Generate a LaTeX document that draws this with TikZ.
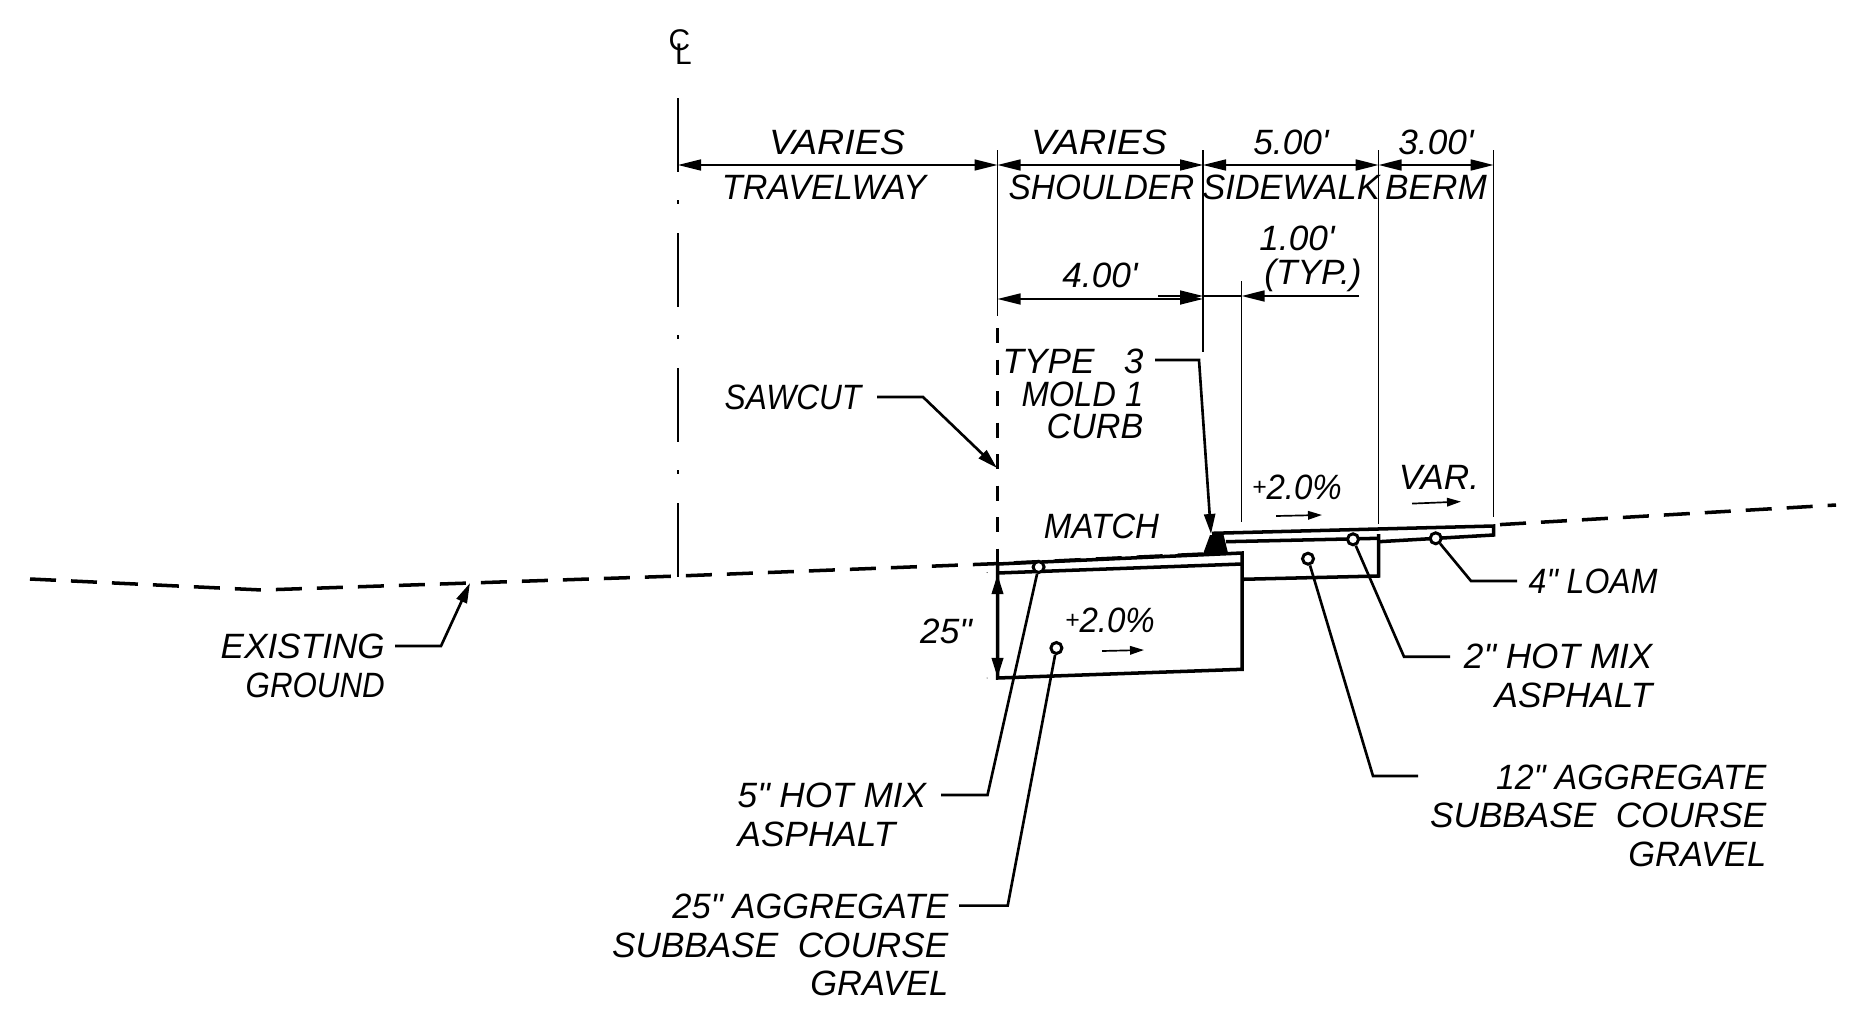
\documentclass[tikz,border=0pt]{standalone}
\usepackage{fontspec}
\setmainfont{Liberation Sans}[Ligatures=TeXOff]
\usetikzlibrary{arrows.meta}
\newcommand{\fitw}[2]{\scalebox{#1}[1]{#2}}
\tikzset{
  lbl/.style={inner sep=0pt, font=\itshape\fontsize{10}{10.94}\selectfont},
  thinline/.style={line width=0.48pt},
  thickline/.style={line width=1pt},
  groundline/.style={thickline, dash pattern=on 0.26cm off 0.15cm},
  dimline/.style={thinline, {Triangle[length=2.3mm,width=1.1mm]}-{Triangle[length=2.3mm,width=1.1mm]}},
  tipline/.style={thinline, -{Triangle[length=2.3mm,width=1.1mm]}},
  leader/.style={line width=0.75pt},
  leadertip/.style={line width=0.75pt, -{Triangle[length=2mm,width=1.1mm]}},
  slopearrow/.style={thinline, -{Triangle[length=1.4mm,width=0.85mm]}},
  spot/.style={circle, draw, line width=0.85pt, fill=white, inner sep=0pt, minimum size=0.11cm}
}
\begin{document}
\begin{tikzpicture}[x=0.01cm,y=-0.01cm]
  \useasboundingbox (0,0) rectangle (1861,1015);
  \def\cl{678}
  \def\sh{997.5}
  \def\sw{1203}
  \def\cb{1241.6}
  \def\be{1378.6}
  \def\en{1493.6}
  % centerline
  \node[inner sep=0pt, font=\fontsize{8.5}{9}\selectfont, anchor=base west] (clsym) at (668,50) {C\hspace{-4.3pt}\raisebox{-4pt}{L}};
  \draw[thinline, dash pattern=on 0.74cm off 0.28cm on 0.04cm off 0.29cm] (\cl,98) -- (\cl,577);
  % extension lines
  \draw[thinline] (\sh,150) -- (\sh,316);
  \draw[line width=0.7pt, dash pattern=on 0.15cm off 0.165cm] (\sh,328) -- (\sh,564);
  \draw[thinline] (\sw,150) -- (\sw,352);
  \draw[thinline] (\cb,281) -- (\cb,522);
  \draw[thinline] (\be,150) -- (\be,524);
  \draw[thinline] (\en,150) -- (\en,517);
  % dimensions
  \coordinate (dcl) at (\cl,165);
  \coordinate (dsh) at (\sh,165);
  \coordinate (dsw) at (\sw,165);
  \coordinate (dbe) at (\be,165);
  \coordinate (den) at (\en,165);
  \draw[dimline] (dcl) -- (dsh);
  \draw[dimline] (dsh) -- (dsw);
  \draw[dimline] (dsw) -- (dbe);
  \draw[dimline] (dbe) -- (den);
  \coordinate (fa) at (\sh,299);
  \coordinate (fb) at (\sw,299);
  \draw[dimline] (fa) -- (fb);
  \coordinate (oa) at (1158,296);
  \coordinate (ob) at (\sw,296);
  \coordinate (oc) at (\cb,296);
  \coordinate (od) at (1359,296);
  \draw[tipline] (oa) -- (ob);
  \draw[thinline] (ob) -- (oc);
  \draw[tipline] (od) -- (oc);
  % ground
  \draw[groundline] (30,579) -- (262,590) -- (678,576) -- (1000,563.5) -- (1203,554);
  \draw[groundline] (1500,524.6) -- (1836,505);
  % pavement
  \draw[thickline] (\sh,564) -- (1242,553) -- (1242,669.3) -- (\sh,678) -- cycle;
  \draw[thickline] (\sh,573) -- (1242,564);
  \draw[thickline] (1242,579.3) -- (\be,576) -- (\be,534);
  \draw[thickline] (1212,533.3) -- (\en,526) -- (\en,535) -- (\be,541.7);
  \draw[thickline] (1226,541.7) -- (\be,538.3);
  \fill (1203,554) -- (1228,553) -- (1223.6,535) -- (1210,535) -- cycle;
  \draw[line width=1pt, {Triangle[length=2mm,width=1.1mm]}-{Triangle[length=2mm,width=1.1mm]}] (\sh,574) -- (\sh,678);
  \fill (987,572.5) circle (0.5);
  \fill (987,678) circle (0.5);
  % callout spots
  \node[spot] (hmaspot) at (1038.6,567) {};
  \node[spot] (subspot) at (1056.4,648) {};
  \node[spot] (gravspot) at (1308,558.7) {};
  \node[spot] (walkspot) at (1353,539.3) {};
  \node[spot] (loamspot) at (1435.7,538.3) {};
  % slopes
  \draw[slopearrow] (1102,651) -- (1144,650);
  \draw[slopearrow] (1276,516) -- (1322,515);
  \draw[slopearrow] (1412,503.6) -- (1461,501.6);
  % dimension text
  \node[lbl] (varone) at (837,142.5) {\fitw{1.07}{VARIES}};
  \node[lbl] (vartwo) at (1099,142.5) {\fitw{1.07}{VARIES}};
  \node[lbl] (fivef) at (1291,142.5) {5.00'};
  \node[lbl] (threef) at (1436,142.5) {3.00'};
  \node[lbl] (travelway) at (824,187.5) {\fitw{0.97}{TRAVELWAY}};
  \node[lbl] (shoulder) at (1101.5,187.5) {\fitw{0.95}{SHOULDER}};
  \node[lbl] (sidewalk) at (1291,187.5) {\fitw{0.98}{SIDEWALK}};
  \node[lbl] (berm) at (1436,187.5) {BERM};
  \node[lbl] (fourf) at (1100,275) {4.00'};
  \node[lbl] (onef) at (1297,238.5) {1.00'};
  \node[lbl] (typ) at (1313,275) {(TYP.)};
  \node[lbl] (match) at (1101.5,526) {\fitw{0.94}{MATCH}};
  \node[lbl] (upslope) at (1297,487) {\raisebox{.2ex}{\scriptsize +}\fitw{0.94}{2.0\%}};
  \node[lbl] (lowslope) at (1110,620) {\raisebox{.2ex}{\scriptsize +}\fitw{0.94}{2.0\%}};
  \node[lbl] (var) at (1439,477) {VAR.};
  \node[lbl] (depth) at (946,631.5) {25"};
  % callouts
  \node[lbl, anchor=east] (sawcut) at (862,397) {\fitw{0.9}{SAWCUT}};
  \coordinate (sawbend) at (923,397);
  \coordinate (sawtip) at (997,468);
  \draw[leadertip] ([xshift=0.15cm]sawcut.east) -- (sawbend) -- (sawtip);
  \node[lbl, anchor=east, align=right, font=\itshape\fontsize{10}{9.35}\selectfont] (curb) at (1144,394) {TYPE\hspace{0.83em}3\\\fitw{0.93}{MOLD 1}\\\fitw{0.97}{CURB}};
  \coordinate (curbs) at (1155,360);
  \coordinate (curbbend) at (1199,360);
  \coordinate (curbtip) at (1211,534);
  \draw[leadertip] (curbs) -- (curbbend) -- (curbtip);
  \node[lbl, anchor=east, align=right] (ground) at (385.5,666) {EXISTING\\\fitw{0.89}{GROUND}};
  \coordinate (grounds) at (395,646);
  \coordinate (groundbend) at (441,646);
  \coordinate (groundtip) at (470,583);
  \draw[leadertip] (grounds) -- (groundbend) -- (groundtip);
  \node[lbl, anchor=west] (loam) at (1528,581.5) {\fitw{0.91}{4" LOAM}};
  \coordinate (loambend) at (1471,581);
  \coordinate (loamend) at (1517,581);
  \draw[leader] (loamspot) -- (loambend) -- (loamend);
  \node[lbl, anchor=east, align=right] (walkhma) at (1653,676) {2" HOT MIX\\ASPHALT};
  \coordinate (walkbend) at (1404,656.7);
  \coordinate (walkend) at (1450,656.7);
  \draw[leader] (walkspot) -- (walkbend) -- (walkend);
  \node[lbl, anchor=east, align=right] (walkgrav) at (1767,815.5) {\fitw{0.96}{12" AGGREGATE}\\SUBBASE\ \ COURSE\\\fitw{0.98}{GRAVEL}};
  \coordinate (gravbend) at (1373,776);
  \coordinate (gravend) at (1418,776);
  \draw[leader] (gravspot) -- (gravbend) -- (gravend);
  \node[lbl, anchor=west, align=left] (roadhma) at (737,815) {5" HOT MIX\\ASPHALT};
  \coordinate (hmabend) at (987.5,795);
  \coordinate (hmaend) at (941,795);
  \draw[leader] (hmaspot) -- (hmabend) -- (hmaend);
  \node[lbl, anchor=east, align=right] (roadgrav) at (949,945) {\fitw{0.98}{25" AGGREGATE}\\SUBBASE\ \ COURSE\\\fitw{0.98}{GRAVEL}};
  \coordinate (subbend) at (1007.7,905.6);
  \coordinate (subend) at (959,905.6);
  \draw[leader] (subspot) -- (subbend) -- (subend);
\end{tikzpicture}
\end{document}
